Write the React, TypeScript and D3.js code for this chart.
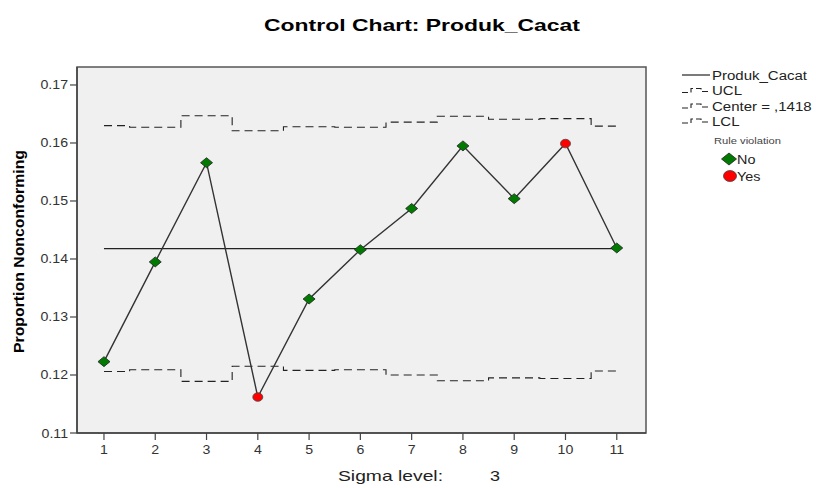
import React from "react";
import * as d3 from "d3";

const subgroups = [1, 2, 3, 4, 5, 6, 7, 8, 9, 10, 11];
const proportions = [0.1223, 0.1395, 0.1566, 0.1162, 0.1331, 0.1416, 0.1487, 0.1595, 0.1504, 0.1599, 0.1419];
const violations = [false, false, false, true, false, false, false, false, false, true, false];
const ucl = [0.1630, 0.1627, 0.1647, 0.1621, 0.1628, 0.1627, 0.1636, 0.1646, 0.1641, 0.1642, 0.1629];
const lcl = [0.1206, 0.1209, 0.1189, 0.1215, 0.1208, 0.1209, 0.1200, 0.1190, 0.1195, 0.1194, 0.1207];
const center = 0.1418;
const yTicks = [0.11, 0.12, 0.13, 0.14, 0.15, 0.16, 0.17];
const legendItems = ["Produk_Cacat", "UCL", "Center = ,1418", "LCL"];

const W = 816, H = 488;
const L = 77, R = 646, T = 67, B = 433;
const FONT = "'Liberation Sans', Arial, sans-serif";

function SText(props: {
  x: number; y: number; sx?: number; anchor?: string; size: number; bold?: boolean; fill?: string; children: React.ReactNode;
}) {
  const { x, y, sx = 1.2, anchor = "start", size, bold, fill = "#222", children } = props;
  return (
    <text
      transform={`translate(${x},${y}) scale(${sx},1)`}
      textAnchor={anchor}
      fontSize={size}
      fontWeight={bold ? "bold" : "normal"}
      fill={fill}
    >
      {children}
    </text>
  );
}

export default function App() {
  const x = d3.scaleLinear().domain([0.474, 11.57]).range([L, R]);
  const y = d3.scaleLinear().domain([0.11, 0.1731]).range([B, T]);

  const stepLine = d3.line<number>().x((_, i) => x(subgroups[i])).y((d) => y(d)).curve(d3.curveStep);
  const dataLine = d3.line<number>().x((_, i) => x(subgroups[i])).y((d) => y(d));

  const diamond = (cx: number, cy: number, hw = 6, hh = 5) =>
    `M${cx - hw},${cy}L${cx},${cy - hh}L${cx + hw},${cy}L${cx},${cy + hh}Z`;

  const legendX = 682;
  const legendY = [75, 90.5, 106, 121];

  return (
    <svg width={W} height={H} style={{ position: "absolute", left: 0, top: 0, background: "#fff" }} fontFamily={FONT}>
      <text x={264} y={31} fontSize={17} fontWeight="bold" fill="#000" textLength={316} lengthAdjust="spacingAndGlyphs">
        Control Chart: Produk_Cacat
      </text>

      <rect x={L} y={T} width={R - L} height={B - T} fill="#f0f0f0" stroke="#555" strokeWidth={1.5} />

      {/* control limits */}
      <path d={stepLine(ucl) || ""} fill="none" stroke="#222" strokeWidth={1.1} strokeDasharray="8,5" />
      <path d={stepLine(lcl) || ""} fill="none" stroke="#222" strokeWidth={1.1} strokeDasharray="8,5" />
      <line x1={x(1)} x2={x(11)} y1={y(center)} y2={y(center)} stroke="#222" strokeWidth={1.2} />

      <path d={dataLine(proportions) || ""} fill="none" stroke="#333" strokeWidth={1.4} />

      {proportions.map((v, i) =>
        violations[i] ? (
          <ellipse key={i} cx={x(subgroups[i])} cy={y(v)} rx={5} ry={4.3} fill="#ff0000" stroke="#444" strokeWidth={0.8} />
        ) : (
          <path key={i} d={diamond(x(subgroups[i]), y(v))} fill="#007a00" stroke="#222" strokeWidth={0.8} />
        )
      )}

      {/* y axis */}
      {yTicks.map((t) => (
        <g key={t}>
          <line x1={L - 7} x2={L} y1={y(t)} y2={y(t)} stroke="#444" strokeWidth={1.2} />
          <SText x={L - 9} y={y(t) + 4.5} anchor="end" size={12} sx={1.18} fill="#333">
            {t.toFixed(2)}
          </SText>
        </g>
      ))}
      <line x1={L} x2={L} y1={T} y2={B} stroke="#444" strokeWidth={1.5} />

      {/* x axis */}
      {subgroups.map((s) => (
        <g key={s}>
          <line x1={x(s)} x2={x(s)} y1={B} y2={B + 7} stroke="#444" strokeWidth={1.2} />
          <SText x={x(s)} y={B + 21} anchor="middle" size={12} sx={1.18} fill="#333">
            {s}
          </SText>
        </g>
      ))}
      <line x1={L} x2={R} y1={B} y2={B} stroke="#444" strokeWidth={1.5} />

      <text
        transform={`translate(24,251.5) rotate(-90)`}
        textAnchor="middle"
        fontSize={15}
        fontWeight="bold"
        fill="#000"
        textLength={203}
        lengthAdjust="spacingAndGlyphs"
      >
        Proportion Nonconforming
      </text>

      <text x={338} y={481} fontSize={15} fill="#222" textLength={105} lengthAdjust="spacingAndGlyphs">Sigma level:</text>
      <SText x={490} y={481} size={15} fill="#222">3</SText>

      {/* legend */}
      <line x1={legendX} x2={legendX + 28} y1={legendY[0]} y2={legendY[0]} stroke="#222" strokeWidth={1.2} />
      {[1, 2, 3].map((k) => (
        <path
          key={k}
          d={`M${legendX},${legendY[k] + 2}H${legendX + 9}V${legendY[k] - 2}H${legendX + 19}V${legendY[k] + 1}H${legendX + 27}`}
          fill="none"
          stroke="#222"
          strokeWidth={1.1}
          strokeDasharray="6,3"
        />
      ))}
      {legendItems.map((t, k) => (
        <SText key={t} x={legendX + 30} y={legendY[k] + 4.5} size={12} sx={1.25}>
          {t}
        </SText>
      ))}
      <text x={714} y={144} fontSize={8.5} fill="#444" textLength={67} lengthAdjust="spacingAndGlyphs">Rule violation</text>
      <path d={diamond(729, 159, 7.5, 6)} fill="#007a00" stroke="#222" strokeWidth={0.8} />
      <SText x={737} y={163.5} size={12}>No</SText>
      <ellipse cx={730} cy={176} rx={6.5} ry={5.5} fill="#ff0000" stroke="#444" strokeWidth={0.8} />
      <SText x={737} y={180.5} size={12}>Yes</SText>
    </svg>
  );
}
